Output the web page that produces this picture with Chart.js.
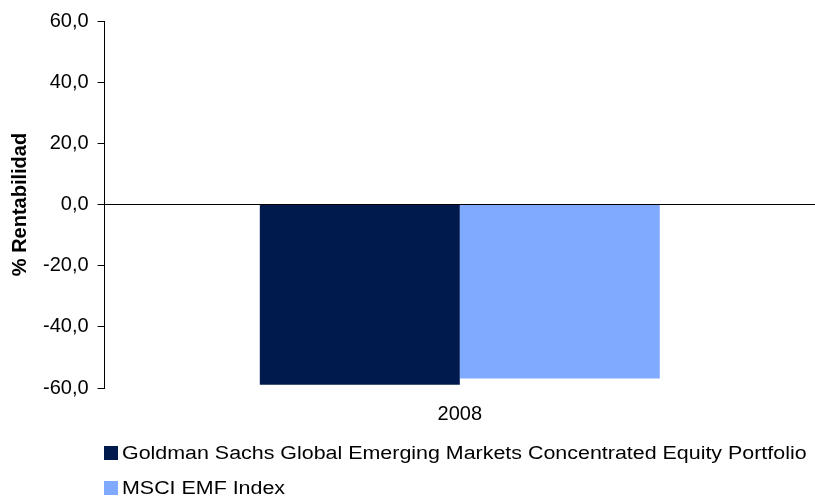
<!DOCTYPE html>
<html>
<head>
<meta charset="utf-8">
<script src="https://cdn.jsdelivr.net/npm/chart.js@4"></script>
<style>
  body { margin: 0; background: #fff; }
  #wrap { position: relative; width: 815px; height: 498px; }
  #legend { position: absolute; left: 104px; top: 441px; font-family: "Liberation Sans", Arial, sans-serif; font-size: 18px; color: #000; }
  #legend div { height: 35px; line-height: 24px; white-space: nowrap; }
  #legend span.box { display: inline-block; width: 14px; height: 14px; margin-right: 4px; vertical-align: -1px; }
  #legend span.txt { display: inline-block; transform: scaleX(1.19); transform-origin: left center; }
</style>
</head>
<body>
<div id="wrap">
  <canvas id="myChart" width="815" height="498"></canvas>
  <div id="legend"></div>
</div>
<script>
const categories = ["2008"];
const seriesNames = ["Goldman Sachs Global Emerging Markets Concentrated Equity Portfolio", "MSCI EMF Index"];
const fundValues = [-58.9];
const indexValues = [-56.9];
const seriesColors = ["#001a4d", "#80aaff"];
const yTicks = [-60, -40, -20, 0, 20, 40, 60];

const fontFamily = '"Liberation Sans", Arial, sans-serif';

let canvas = document.getElementById("myChart").getContext("2d");
let myChart = new Chart(canvas, {
    type: "bar",
    data: {
        labels: categories,
        datasets: [
            { label: seriesNames[0], data: fundValues, backgroundColor: seriesColors[0], borderWidth: 0 },
            { label: seriesNames[1], data: indexValues, backgroundColor: seriesColors[1], borderWidth: 0 }
        ]
    },
    options: {
        responsive: false,
        animation: false,
        layout: { padding: { top: 10, right: 0, bottom: 66, left: 8 } },
        plugins: {
            legend: { display: false },
            tooltip: { enabled: false }
        },
        datasets: {
            bar: { categoryPercentage: 0.563, barPercentage: 1 }
        },
        scales: {
            x: {
                grid: { display: false },
                border: { display: false },
                ticks: { color: "#000", font: { family: fontFamily, size: 20 }, padding: 6 }
            },
            y: {
                min: yTicks[0],
                max: yTicks[yTicks.length - 1],
                afterBuildTicks: function(scale) {
                    scale.ticks = yTicks.map(v => ({ value: v }));
                },
                grid: {
                    color: function(ctx) { return ctx.tick && ctx.tick.value === 0 ? "#000" : "rgba(0,0,0,0)"; },
                    tickColor: "#000",
                    tickLength: 7,
                    lineWidth: 1
                },
                border: { display: true, color: "#000" },
                ticks: {
                    color: "#000",
                    font: { family: fontFamily, size: 20 },
                    padding: 9,
                    callback: function(v) { return v.toFixed(1).replace(".", ","); }
                },
                title: {
                    display: true,
                    text: "% Rentabilidad",
                    color: "#000",
                    font: { family: fontFamily, size: 20, weight: "bold" },
                    padding: { top: 0, bottom: 2 }
                }
            }
        }
    }
});

const legend = document.getElementById("legend");
for (let i = 0; i < seriesNames.length; i++) {
    let row = document.createElement("div");
    row.innerHTML = '<span class="box" style="background:' + seriesColors[i] + '"></span><span class="txt">' + seriesNames[i] + '</span>';
    legend.appendChild(row);
}
</script>
</body>
</html>
